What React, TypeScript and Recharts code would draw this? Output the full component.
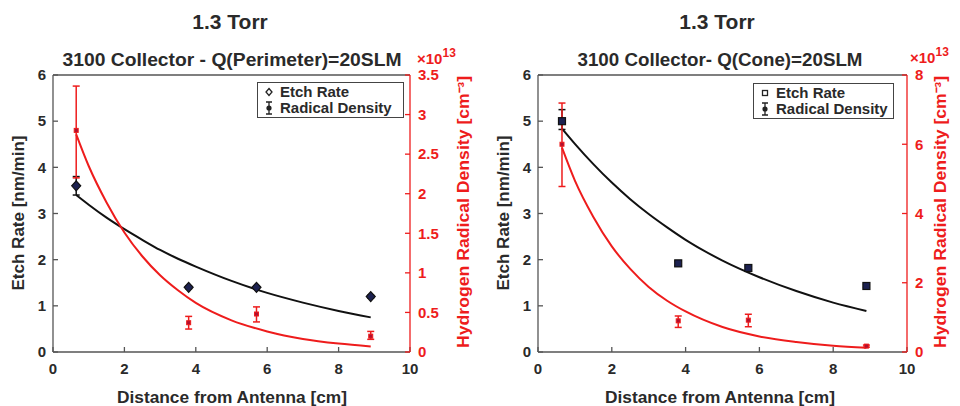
import { ComposedChart, Line, Scatter, ErrorBar, XAxis, YAxis, ReferenceLine } from "recharts";

// measured points (distance from antenna, cm)
const distance = [0.65, 3.8, 5.7, 8.9];

const etchPerimeter = [3.6, 1.4, 1.4, 1.2];
const etchPerimeterLow = [3.4, 1.37, 1.37, 1.17];
const etchPerimeterHigh = [3.8, 1.43, 1.43, 1.23];
const radicalPerimeter = [2.8, 0.37, 0.48, 0.2];
const radicalPerimeterLow = [2.2, 0.29, 0.38, 0.16];
const radicalPerimeterHigh = [3.36, 0.45, 0.57, 0.26];

const etchCone = [5.0, 1.92, 1.82, 1.43];
const etchConeLow = [4.82, 1.87, 1.78, 1.4];
const etchConeHigh = [5.25, 1.97, 1.86, 1.46];
const radicalCone = [6.0, 0.9, 0.92, 0.17];
const radicalConeLow = [4.78, 0.71, 0.73, 0.14];
const radicalConeHigh = [7.19, 1.04, 1.09, 0.2];

// fitted curves
const fitX = [0.65, 1, 1.5, 2, 2.5, 3, 3.5, 4, 5, 6, 7, 8, 8.9];
const fitEtchPerimeter = [3.4, 3.19, 2.91, 2.66, 2.43, 2.21, 2.02, 1.85, 1.54, 1.28, 1.07, 0.89, 0.75];
const fitRadicalPerimeter = [2.75, 2.35, 1.89, 1.51, 1.21, 0.97, 0.78, 0.62, 0.4, 0.26, 0.165, 0.106, 0.07];
const fitEtchCone = [4.84, 4.51, 4.07, 3.67, 3.31, 2.99, 2.7, 2.43, 1.98, 1.62, 1.32, 1.07, 0.89];
const fitRadicalCone = [5.9, 4.95, 3.9, 3.05, 2.4, 1.88, 1.48, 1.17, 0.72, 0.45, 0.29, 0.18, 0.12];

const xTicks = [0, 2, 4, 6, 8, 10];
const etchTicks = [0, 1, 2, 3, 4, 5, 6];
const perimeterDensityTicks = [0, 0.5, 1, 1.5, 2, 2.5, 3, 3.5];
const coneDensityTicks = [0, 2, 4, 6, 8];

const FONT = '"Liberation Sans", Arial, sans-serif';
const RED = "#ee1c1c";
const INK = "#2a2a2a";
const AXIS = "#555";

const pts = (ys: number[], lo: number[], hi: number[]) =>
  distance.map((x, i) => ({ x, y: ys[i], err: [ys[i] - lo[i], hi[i] - ys[i]] }));
const curve = (ys: number[]) => fitX.map((x, i) => ({ x, y: ys[i] }));

const Diamond = (p: any) => (
  <path d={`M${p.cx},${p.cy - 5}L${p.cx + 4.5},${p.cy}L${p.cx},${p.cy + 5}L${p.cx - 4.5},${p.cy}Z`} fill="#1c2150" stroke="#111" strokeWidth={1.2} />
);
const Square = (p: any) => (
  <rect x={p.cx - 3.5} y={p.cy - 3.5} width={7} height={7} fill="#1c2150" stroke="#111" strokeWidth={1.2} />
);
const RedDot = (p: any) => (
  <rect x={p.cx - 2} y={p.cy - 2} width={4} height={4} fill="#b01030" stroke={RED} strokeWidth={1} />
);

const tickStyle = { fill: INK, fontSize: 15, fontWeight: 700, fontFamily: FONT };
const grayLine = { stroke: AXIS, strokeWidth: 1.3 };
const redLine = { stroke: RED, strokeWidth: 1.3 };

interface PanelProps {
  subtitle: string;
  subLen: number;
  etch: any[];
  radical: any[];
  etchFit: any[];
  radicalFit: any[];
  densityMax: number;
  densityTicks: number[];
  leftW: number;
  rightW: number;
  square?: boolean;
  titleX: number;
  subX: number;
  etchLabelX: number;
  densLabelX: number;
  expX: number;
  expY: number;
  legend: { left: number; top: number; width: number };
}

function Panel(p: PanelProps) {
  return (
    <div style={{ position: "relative", width: 480, height: 406 }}>
      <ComposedChart width={480} height={406} margin={{ top: 75, right: 0, left: 0, bottom: 24 }}>
        <XAxis
          dataKey="x"
          type="number"
          domain={[0, 10]}
          ticks={xTicks}
          height={30}
          axisLine={grayLine}
          tickLine={grayLine}
          tickSize={-5}
          tickMargin={16}
          tick={tickStyle}
        />
        <XAxis
          xAxisId="top"
          dataKey="x"
          orientation="top"
          type="number"
          domain={[0, 10]}
          ticks={xTicks}
          height={0}
          axisLine={grayLine}
          tickLine={grayLine}
          tickSize={-5}
          tickFormatter={() => ""}
        />
        <YAxis
          yAxisId="etch"
          domain={[0, 6]}
          ticks={etchTicks}
          width={p.leftW}
          axisLine={grayLine}
          tickLine={grayLine}
          tickSize={-5}
          tickMargin={12}
          tick={tickStyle}
        />
        <YAxis
          yAxisId="dens"
          orientation="right"
          domain={[0, p.densityMax]}
          ticks={p.densityTicks}
          width={p.rightW}
          axisLine={redLine}
          tickLine={redLine}
          tickSize={-5}
          tickMargin={13}
          tick={{ ...tickStyle, fill: RED }}
        />
        <ReferenceLine yAxisId="etch" y={6} stroke={AXIS} strokeWidth={1.3} />
        <Line data={p.etchFit} xAxisId="top" yAxisId="etch" dataKey="y" stroke="none" dot={false} legendType="none" isAnimationActive={false} />
        <Line data={p.etchFit} yAxisId="etch" dataKey="y" type="monotone" stroke="#111" strokeWidth={2} dot={false} isAnimationActive={false} />
        <Line data={p.radicalFit} yAxisId="dens" dataKey="y" type="monotone" stroke={RED} strokeWidth={2} dot={false} isAnimationActive={false} />
        <Scatter data={p.etch} yAxisId="etch" dataKey="y" shape={p.square ? Square : Diamond} isAnimationActive={false}>
          <ErrorBar dataKey="err" direction="y" width={3.5} stroke="#111" strokeWidth={1.5} />
        </Scatter>
        <Scatter data={p.radical} yAxisId="dens" dataKey="y" shape={RedDot} isAnimationActive={false}>
          <ErrorBar dataKey="err" direction="y" width={3.5} stroke={RED} strokeWidth={1.5} />
        </Scatter>

        <text x={p.titleX} y={29} textAnchor="middle" fontFamily={FONT} fontWeight={700} fontSize={21} fill={INK}>1.3 Torr</text>
        <text x={p.subX} y={66} textAnchor="middle" fontFamily={FONT} fontWeight={700} fontSize={18} fill={INK} textLength={p.subLen} lengthAdjust="spacingAndGlyphs">{p.subtitle}</text>
        <text x={p.etchLabelX} y={213} transform={`rotate(-90 ${p.etchLabelX} 213)`} textAnchor="middle" dominantBaseline="central" fontFamily={FONT} fontWeight={700} fontSize={16} fill={INK} textLength={155} lengthAdjust="spacingAndGlyphs">Etch Rate [nm/min]</text>
        <text x={p.subX} y={397} textAnchor="middle" dominantBaseline="central" fontFamily={FONT} fontWeight={700} fontSize={16} fill={INK} textLength={230} lengthAdjust="spacingAndGlyphs">Distance from Antenna [cm]</text>
        <text x={p.densLabelX} y={212} transform={`rotate(-90 ${p.densLabelX} 212)`} textAnchor="middle" dominantBaseline="central" fontFamily={FONT} fontWeight={700} fontSize={16} fill={RED} textLength={272} lengthAdjust="spacingAndGlyphs">Hydrogen Radical Density [cm⁻³]</text>
        <text x={p.expX} y={p.expY} fontFamily={FONT} fontWeight={700} fontSize={15} fill={RED}>
          ×10<tspan dy={-7} fontSize={12}>13</tspan>
        </text>
      </ComposedChart>

      <div
        style={{
          position: "absolute",
          left: p.legend.left,
          top: p.legend.top,
          width: p.legend.width,
          border: "1px solid #444",
          background: "#fff",
          fontFamily: FONT,
          fontWeight: 700,
          fontSize: 15,
          color: INK,
          padding: "1px 0 1px 6px",
          lineHeight: "16px",
        }}
      >
        <div style={{ display: "flex", alignItems: "center", gap: 6 }}>
          <svg width={10} height={16}>
            {p.square ? (
              <rect x={2.5} y={5.5} width={5} height={5} fill="none" stroke="#222" strokeWidth={1.3} />
            ) : (
              <path d="M5,4.5L8,8L5,11.5L2,8Z" fill="none" stroke="#222" strokeWidth={1.3} />
            )}
          </svg>
          Etch Rate
        </div>
        <div style={{ display: "flex", alignItems: "center", gap: 6 }}>
          <svg width={10} height={16}>
            <path d="M2,2H8M5,2V14M2,14H8" stroke="#222" strokeWidth={1.3} fill="none" />
            <circle cx={5} cy={8} r={2.6} fill="#222" />
          </svg>
          Radical Density
        </div>
      </div>
    </div>
  );
}

export default function App() {
  return (
    <div style={{ position: "absolute", left: 0, top: 0, width: 960, height: 406, background: "#fff", display: "flex" }}>
      <Panel
        subtitle="3100 Collector - Q(Perimeter)=20SLM"
        subLen={339}
        etch={pts(etchPerimeter, etchPerimeterLow, etchPerimeterHigh)}
        radical={pts(radicalPerimeter, radicalPerimeterLow, radicalPerimeterHigh)}
        etchFit={curve(fitEtchPerimeter)}
        radicalFit={curve(fitRadicalPerimeter)}
        densityMax={3.5}
        densityTicks={perimeterDensityTicks}
        leftW={53}
        rightW={70}
        titleX={230}
        subX={232}
        etchLabelX={18}
        densLabelX={463}
        expX={417}
        expY={64}
        legend={{ left: 257, top: 82, width: 139 }}
      />
      <Panel
        subtitle="3100 Collector- Q(Cone)=20SLM"
        subLen={285}
        etch={pts(etchCone, etchConeLow, etchConeHigh)}
        radical={pts(radicalCone, radicalConeLow, radicalConeHigh)}
        etchFit={curve(fitEtchCone)}
        radicalFit={curve(fitRadicalCone)}
        densityMax={8}
        densityTicks={coneDensityTicks}
        leftW={58}
        rightW={53}
        square
        titleX={237}
        subX={240}
        etchLabelX={23}
        densLabelX={460}
        expX={430}
        expY={63}
        legend={{ left: 273, top: 83, width: 133 }}
      />
    </div>
  );
}
